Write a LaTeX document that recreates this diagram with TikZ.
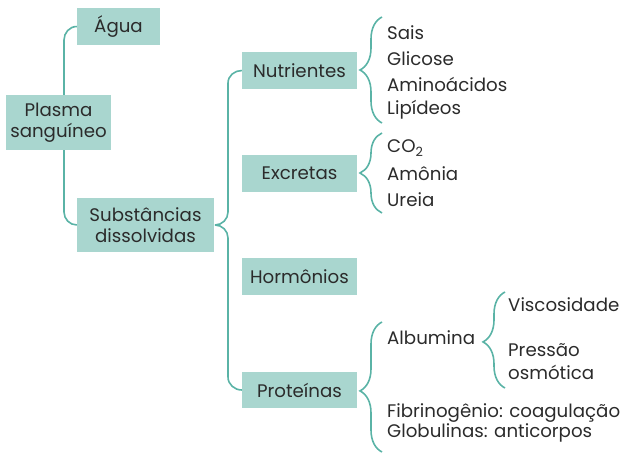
\documentclass[tikz,border=0pt]{standalone}
\usepackage{fontspec}
\setmainfont{Poppins}
\usetikzlibrary{decorations.pathreplacing,backgrounds}
\definecolor{boxfill}{HTML}{A9D6CF}
\definecolor{linec}{HTML}{5AB3A6}
\definecolor{txt}{HTML}{2B2B2B}
\begin{document}
\begin{tikzpicture}[x=1pt,y=-1pt,
  every node/.style={text=txt,font=\fontsize{18.2}{21.5}\selectfont,inner sep=0pt},
  bx/.style={fill=boxfill,align=center},
  item/.style={anchor=west},
  conn/.style={draw=linec,line width=1.6pt},
  cbr/.style={conn,decorate,decoration={brace,amplitude=22pt}}]
\useasboundingbox (0,0) rectangle (624,455);
% boxes
\node[bx,minimum width=83pt,minimum height=37pt] (agua) at (118.5,26.5) {Água};
\node[bx,minimum width=105pt,minimum height=55pt] (plasma) at (58.5,122.5) {Plasma\\sanguíneo};
\node[bx,minimum width=137pt,minimum height=54pt] (subst) at (145.5,225) {Substâncias\\dissolvidas};
\node[bx,minimum width=115pt,minimum height=37pt] (nutr) at (299.5,70.5) {Nutrientes};
\node[bx,minimum width=115pt,minimum height=37pt] (excr) at (299.5,173.5) {Excretas};
\node[bx,minimum width=115pt,minimum height=37pt] (horm) at (299.5,276.5) {Hormônios};
\node[bx,minimum width=115pt,minimum height=36pt] (prot) at (299.5,390) {Proteínas};
% items
\node[item] (sais) at (387,33) {Sais};
\node[item] (glic) at (387,58.5) {Glicose};
\node[item] (amin) at (387,84) {Aminoácidos};
\node[item] (lipi) at (387,109.5) {Lipídeos};
\node[item] (co2) at (387,148) {CO\textsubscript{2}};
\node[item] (amon) at (387,174) {Amônia};
\node[item] (urei) at (387,200) {Ureia};
\node[item] (albu) at (387,338) {Albumina};
\node[item] (visc) at (508,305) {Viscosidade};
\node[item,align=left,font=\fontsize{18.2}{22.5}\selectfont] (pres) at (508,361.5) {Pressão\\osmótica};
\node[item] (fibr) at (387,413) {Fibrinogênio: coagulação};
\node[item] (glob) at (387,433) {Globulinas: anticorpos};
% connectors
\begin{scope}[on background layer]
\draw[conn] (agua.west) to[out=180,in=90] (64,40) -- (64,212) to[out=-90,in=180] (subst.west);
\end{scope}
\coordinate (tip) at (215,225);
\draw[conn] (nutr.west) to[out=180,in=90] (228,83) -- (228,212) to[out=-90,in=0] (tip);
\draw[conn] (tip) to[out=0,in=90] (228,238) -- (228,377) to[out=-90,in=180] (prot.west);
\coordinate (nb1) at (382,123); \coordinate (nb2) at (382,17);
\draw[cbr] (nb1) -- (nb2);
\coordinate (eb1) at (382,213); \coordinate (eb2) at (382,133);
\draw[cbr] (eb1) -- (eb2);
\coordinate (pb1) at (382,452); \coordinate (pb2) at (382,322);
\draw[cbr,decoration={aspect=0.47}] (pb1) -- (pb2);
\coordinate (ab1) at (505,388); \coordinate (ab2) at (505,292);
\draw[cbr,decoration={aspect=0.48}] (ab1) -- (ab2);
\end{tikzpicture}
\end{document}
